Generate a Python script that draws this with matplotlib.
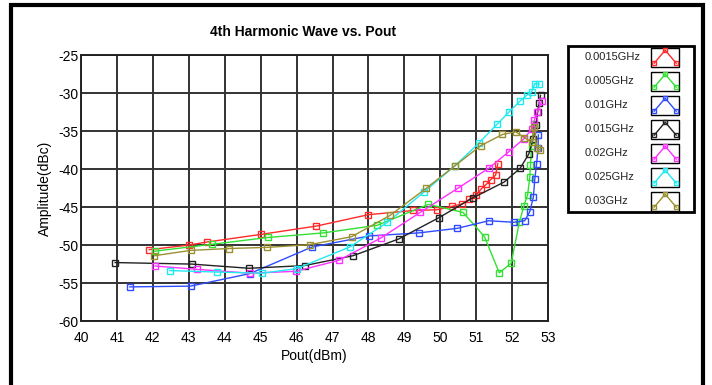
import numpy as np
import matplotlib.pyplot as plt
from matplotlib.patches import Rectangle

plt.rcParams['font.family'] = ['Liberation Sans', 'DejaVu Sans']
plt.rcParams['axes.unicode_minus'] = False

#%% data
labels = ['0.0015GHz', '0.005GHz', '0.01GHz', '0.015GHz', '0.02GHz', '0.025GHz', '0.03GHz']
colors = ['#ff2a2a', '#33e033', '#2f4cff', '#222222', '#ff30ff', '#20e8f0', '#9a9030']

x_0015 = [41.9, 43.0, 43.5, 45.0, 46.55, 48.0, 49.25, 49.92, 50.33, 50.6, 50.8, 51.0, 51.14, 51.28, 51.4, 51.54, 51.6]
y_0015 = [-50.6, -50.0, -49.6, -48.6, -47.5, -46.0, -45.45, -45.35, -44.9, -44.6, -44.0, -43.45, -42.6, -42.0, -41.4, -40.8, -39.3]

x_005 = [42.05, 43.64, 45.2, 46.74, 48.24, 49.67, 50.63, 51.23, 51.64, 51.97, 52.2, 52.33, 52.43, 52.49, 52.51, 52.54, 52.6]
y_005 = [-50.8, -49.9, -49.0, -48.4, -47.4, -44.65, -45.7, -48.9, -53.65, -52.4, -47.0, -44.8, -43.4, -41.1, -39.4, -37.0, -34.1]

x_01 = [41.36, 43.05, 44.7, 46.43, 48.02, 49.4, 50.47, 51.35, 52.05, 52.35, 52.49, 52.59, 52.63, 52.68, 52.72, 52.73]
y_01 = [-55.5, -55.4, -53.75, -50.25, -48.8, -48.4, -47.8, -46.8, -47.0, -46.8, -45.6, -43.7, -41.3, -39.3, -37.2, -35.5]

x_015 = [40.95, 43.08, 44.67, 46.22, 47.57, 48.84, 49.96, 50.9, 51.78, 52.22, 52.46, 52.58, 52.66, 52.71, 52.75, 52.79]
y_015 = [-52.3, -52.5, -53.05, -52.7, -51.4, -49.2, -46.4, -43.8, -41.7, -39.9, -38.05, -36.1, -34.2, -32.5, -31.3, -30.3]

x_02 = [42.06, 43.24, 44.71, 45.98, 47.18, 48.35, 49.44, 50.48, 51.36, 51.91, 52.33, 52.55, 52.62, 52.7, 52.82]
y_02 = [-52.75, -53.2, -53.7, -53.45, -52.0, -49.05, -45.7, -42.55, -39.85, -37.7, -36.0, -34.7, -33.5, -32.5, -31.1]

x_025 = [42.47, 43.78, 45.04, 46.0, 47.48, 48.53, 49.55, 50.41, 51.07, 51.58, 51.92, 52.23, 52.4, 52.54, 52.63, 52.75]
y_025 = [-53.35, -53.55, -53.7, -53.1, -50.25, -47.0, -43.0, -39.55, -36.6, -34.1, -32.45, -31.0, -30.3, -29.85, -28.75, -28.85]

x_03 = [42.04, 43.05, 44.12, 45.19, 46.36, 47.53, 48.6, 49.6, 50.4, 51.13, 51.73, 52.1, 52.34, 52.55, 52.62, 52.68, 52.78]
y_03 = [-51.4, -50.7, -50.45, -50.3, -49.95, -48.9, -46.1, -42.55, -39.6, -36.9, -35.45, -35.1, -35.85, -36.5, -34.4, -37.2, -37.5]

xs = [x_0015, x_005, x_01, x_015, x_02, x_025, x_03]
ys = [y_0015, y_005, y_01, y_015, y_02, y_025, y_03]

x_ticks = np.arange(40, 54, 1)
y_ticks = np.arange(-60, -24, 5)

#%% figure
fig = plt.figure(figsize=(7.12, 3.85), dpi=100)

# outer frame (bottom edge runs off the picture)
fig.patches.append(Rectangle((0.016, -0.05), 0.972, 1.037, transform=fig.transFigure,
                             fill=False, ec='black', lw=3))

ax = fig.add_axes([0.1138, 0.166, 0.656, 0.691])
for xx, yy, c in zip(xs, ys, colors):
    ax.plot(xx, yy, '-', color=c, lw=1, marker='s', ms=4, mfc='none', mec=c, mew=1)

ax.set_xlim(40, 53)
ax.set_ylim(-60, -25)
ax.set_xticks(x_ticks)
ax.set_yticks(y_ticks)
ax.grid(True, color='#333333', lw=1.4)
ax.set_axisbelow(True)
ax.tick_params(length=0, labelsize=10)
ax.tick_params(axis='x', pad=7)
ax.tick_params(axis='y', pad=2)
for s in ax.spines.values():
    s.set_color('#222222')
    s.set_linewidth(1.4)

ax.set_title('4th Harmonic Wave vs. Pout', fontsize=10, fontweight='bold', pad=14, x=0.475)
ax.set_xlabel('Pout(dBm)', fontsize=10, labelpad=3)
ax.set_ylabel('Amplitude(dBc)', fontsize=10, labelpad=4)

#%% legend panel drawn by hand
lax = fig.add_axes([0.798, 0.449, 0.177, 0.431])
lax.set_xlim(0, 126)
lax.set_ylim(166, 0)
lax.axis('off')
lax.add_patch(Rectangle((0, 0), 126, 166, fill=False, ec='black', lw=2, clip_on=False))
for i, (lab, c) in enumerate(zip(labels, colors)):
    yc = 11 + i * 24
    lax.text(16, yc, lab, fontsize=8, va='center', ha='left', color='#222222')
    lax.add_patch(Rectangle((83, yc - 9.5), 28, 19, fill=False, ec='black', lw=1))
    lax.plot([86, 97, 108], [yc + 6, yc - 7, yc + 6], '-', color=c, lw=1,
             marker='s', ms=3, mfc='none', mec=c, mew=1)

fig.savefig('out.png', dpi=100)
